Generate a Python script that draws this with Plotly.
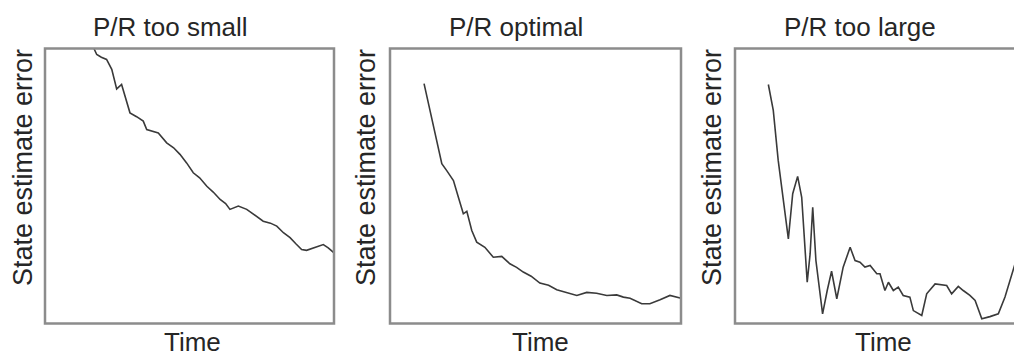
import plotly.graph_objects as go

# ---------------- data (time 0-100, error 0-100 in relative units) ----------------
titles = ["P/R too small", "P/R optimal", "P/R too large"]
x_label = "Time"
y_label = "State estimate error"

small_t = [16.5, 17.9, 19.5, 21.3, 23.1, 24.8, 26.5, 27.7, 29.4, 31.7, 34.0, 35.2, 37.5, 39.2,
           42.1, 44.5, 46.7, 49.0, 51.3, 53.5, 56.0, 58.2, 60.6, 62.5, 64.0, 66.9, 69.8,
           72.5, 75.5, 78.0, 80.2, 82.5, 84.8, 86.8, 88.8, 90.5, 92.8, 94.5, 96.3, 98.0, 100.0]
small_e = [101.0, 97.8, 96.8, 96.0, 92.4, 85.3, 86.9, 82.7, 76.6, 75.2, 73.6, 70.5, 69.9, 69.3,
           65.7, 63.9, 61.5, 58.4, 54.8, 53.0, 49.9, 47.8, 45.1, 43.6, 41.5, 42.7, 41.5,
           39.6, 37.2, 36.5, 35.4, 33.0, 31.2, 29.0, 26.9, 26.6, 27.5, 27.9, 28.7, 27.5, 25.7]

opt_t = [11.7, 13.7, 16.0, 17.8, 19.5, 21.8, 23.5, 25.2, 26.4, 28.1, 29.8, 32.6, 35.5,
         38.4, 41.2, 43.5, 45.8, 48.5, 51.5, 54.5, 57.3, 60.5, 64.2, 67.6, 71.0, 74.5, 77.9,
         80.2, 82.5, 86.5, 89.3, 92.8, 96.2, 99.7]
opt_e = [87.2, 77.5, 66.5, 58.1, 55.6, 52.0, 45.9, 39.9, 40.8, 33.8, 29.6, 27.7, 24.1,
         24.4, 21.7, 20.4, 18.7, 17.2, 14.7, 13.9, 12.3, 11.4, 10.2, 11.3, 11.0, 10.2, 10.4,
         9.6, 9.2, 7.2, 7.2, 8.6, 10.2, 9.3]

large_t = [11.5, 13.2, 14.9, 16.7, 18.4, 19.9, 21.6, 23.0, 24.1, 24.9, 25.9, 26.8, 27.9,
           29.3, 30.2, 31.8, 33.3, 35.1, 37.3, 39.7, 41.4, 43.1, 44.8, 46.6, 48.9, 50.0,
           51.7, 52.9, 54.6, 56.3, 58.0, 60.3, 61.5, 64.4, 66.1, 69.0, 73.0, 74.7, 77.0,
           78.7, 81.0, 82.8, 85.1, 87.9, 90.8, 93.1, 96.0, 97.5]
large_e = [86.9, 77.5, 59.3, 44.7, 30.8, 47.2, 53.5, 45.9, 27.7, 15.0, 25.3, 42.3, 22.9,
           10.8, 3.5, 12.0, 19.0, 9.0, 20.5, 27.7, 22.9, 22.3, 20.5, 21.1, 18.1, 18.1,
           12.0, 15.0, 12.0, 13.2, 10.2, 9.6, 4.7, 2.9, 10.8, 14.4, 13.8, 10.8, 13.5,
           12.0, 10.2, 8.4, 1.7, 2.5, 3.5, 9.6, 19.3, 25.0]

series_t = [small_t, opt_t, large_t]
series_e = [small_e, opt_e, large_e]

# ---------------- layout geometry (pixels) ----------------
W, H = 1014, 356
box_x = [(45, 334), (390, 681), (735, 1025)]   # last box runs past the right edge
box_y = (48.5, 323.5)                           # top, bottom
title_x = [170, 516, 860]
title_y = 27
ylab_x = [23, 366, 712]
ylab_y = 168
xlab_x = [192, 540, 883]
xlab_y = 342

FONT = "Liberation Sans, Arial, sans-serif"
LINE_COL = "#3a3a3a"
FRAME_COL = "#8c8c8c"
TEXT_COL = "#262626"

def px(x):
    return x / W

def py(y):
    return 1 - y / H

fig = go.Figure()
shapes = []
annotations = []
for i in range(3):
    n = "" if i == 0 else str(i + 1)
    x0, x1 = box_x[i]
    dom_x1 = min(x1, W)
    xmax = 100 * (dom_x1 - x0) / (x1 - x0)
    fig.add_trace(go.Scatter(x=series_t[i], y=series_e[i], mode="lines",
                             line=dict(color=LINE_COL, width=1.6),
                             xaxis="x" + n, yaxis="y" + n, showlegend=False,
                             hoverinfo="skip"))
    axis_common = dict(showgrid=False, zeroline=False, showticklabels=False,
                       ticks="", showline=False, fixedrange=True)
    fig.update_layout(**{
        "xaxis" + n: dict(domain=[px(x0), px(dom_x1)], range=[0, xmax],
                          anchor="y" + n, **axis_common),
        "yaxis" + n: dict(domain=[py(box_y[1]), py(box_y[0])], range=[0, 100],
                          anchor="x" + n, **axis_common),
    })
    shapes.append(dict(type="rect", xref="paper", yref="paper",
                       x0=px(x0), x1=px(x1), y0=py(box_y[1]), y1=py(box_y[0]),
                       line=dict(color=FRAME_COL, width=2.5), layer="above"))
    annotations.append(dict(text=titles[i], x=px(title_x[i]), y=py(title_y),
                            xref="paper", yref="paper", showarrow=False,
                            xanchor="center", yanchor="middle",
                            font=dict(family=FONT, size=26, color=TEXT_COL)))
    annotations.append(dict(text=y_label, x=px(ylab_x[i]), y=py(ylab_y),
                            xref="paper", yref="paper", showarrow=False, textangle=-90,
                            xanchor="center", yanchor="middle",
                            font=dict(family=FONT, size=27, color=TEXT_COL)))
    annotations.append(dict(text=x_label, x=px(xlab_x[i]), y=py(xlab_y),
                            xref="paper", yref="paper", showarrow=False,
                            xanchor="center", yanchor="middle",
                            font=dict(family=FONT, size=26, color=TEXT_COL)))

fig.update_layout(width=W, height=H, margin=dict(l=0, r=0, t=0, b=0),
                  paper_bgcolor="white", plot_bgcolor="white",
                  shapes=shapes, annotations=annotations, showlegend=False)

fig.write_html("out.html", config={"displayModeBar": False})
